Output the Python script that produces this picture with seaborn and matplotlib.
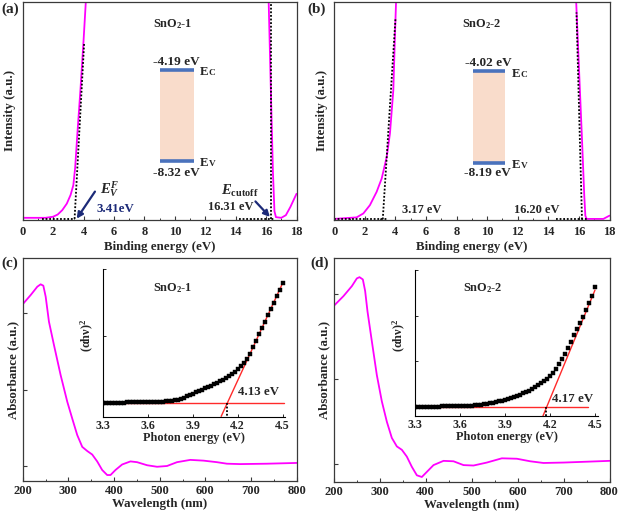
import numpy as np
import pandas as pd
import matplotlib
matplotlib.use("Agg")
import matplotlib.pyplot as plt
from matplotlib.patches import Rectangle
import seaborn as sns

# ---------------- data ----------------
# (a) UPS spectrum SnO2-1
a_energy = [0.0, 1.5, 2.0, 2.3, 2.6, 2.9, 3.15, 3.33, 3.45, 3.6, 3.8, 4.0, 4.15, 4.3,
            16.05, 16.17, 16.33, 16.45, 16.55, 16.65, 17.0, 17.3, 17.6, 17.8, 18.0]
a_intensity = [0.010, 0.010, 0.015, 0.025, 0.045, 0.075, 0.115, 0.160, 0.240, 0.400, 0.600, 0.820, 1.000, 1.200,
               1.200, 1.000, 0.550, 0.220, 0.040, 0.013, 0.010, 0.022, 0.060, 0.090, 0.120]
a_vbm_tangent_x = [3.41, 4.04]
a_vbm_tangent_y = [0.005, 0.81]
a_vbm_base_x = [1.3, 3.45]
a_vbm_base_y = [0.005, 0.005]
a_cut_tangent_x = [16.31, 16.31]
a_cut_tangent_y = [0.005, 1.0]
a_cut_base_x = [14.2, 16.5]
a_cut_base_y = [0.005, 0.005]

# (b) UPS spectrum SnO2-2
b_energy = [0.0, 1.46, 1.90, 2.33, 2.77, 3.10, 3.43, 3.64, 3.86, 3.97, 4.04, 4.2,
            15.7, 15.82, 16.0, 16.2, 16.35, 16.42, 16.5, 17.6, 18.0]
b_intensity = [0.005, 0.012, 0.030, 0.068, 0.129, 0.190, 0.289, 0.396, 0.594, 0.852, 1.000, 1.200,
               1.200, 1.000, 0.700, 0.370, 0.110, 0.020, 0.005, 0.005, 0.020]
b_vbm_tangent_x = [3.17, 4.0]
b_vbm_tangent_y = [0.003, 0.92]
b_vbm_base_x = [0.0, 3.5]
b_vbm_base_y = [0.003, 0.003]
b_cut_tangent_x = [16.20, 15.84]
b_cut_tangent_y = [0.003, 0.95]
b_cut_base_x = [14.5, 16.5]
b_cut_base_y = [0.003, 0.003]

# (c) UV-vis SnO2-1
c_wavelength = [200, 217.5, 232, 239.3, 245.2, 250.3, 257.5, 268.5, 283, 297.6, 308.5, 319.4, 330.4,
                341.3, 352.2, 363.1, 374, 385, 392.3, 403.2, 417.8, 436, 450.5, 472.4, 494.2, 516,
                537.9, 567, 596.2, 625.3, 647.2, 676.3, 734.6, 800]
c_absorbance = [3.114, 3.235, 3.344, 3.375, 3.357, 3.214, 2.886, 2.58, 2.19, 1.84, 1.62, 1.405, 1.25,
                1.196, 1.15, 1.06, 0.948, 0.882, 0.882, 0.948, 1.02, 1.06, 1.05, 1.01, 0.99, 1.0,
                1.05, 1.08, 1.07, 1.05, 1.03, 1.025, 1.03, 1.04]

# (d) UV-vis SnO2-2
d_wavelength = [200, 221.7, 239.9, 250.7, 256.5, 263.8, 268.8, 273.9, 283.3, 294.2, 305.1, 316, 326.8,
                337.7, 348.6, 359.4, 370.3, 381.2, 392, 402.9, 417.4, 439.1, 460.9, 482.6, 504.3,
                533.3, 566, 598.6, 627.5, 656.5, 700, 750.7, 800]
d_absorbance = [2.861, 2.98, 3.097, 3.188, 3.203, 3.176, 3.04, 2.80, 2.45, 2.05, 1.74, 1.50, 1.31,
                1.21, 1.17, 1.09, 0.97, 0.87, 0.85, 0.91, 0.99, 1.04, 1.035, 0.99, 0.985,
                1.02, 1.07, 1.065, 1.035, 1.015, 1.02, 1.03, 1.04]

# Tauc plot insets
tauc_energy = [3.30, 3.32, 3.34, 3.36, 3.38, 3.40, 3.42, 3.44, 3.46, 3.48, 3.50, 3.52, 3.54, 3.56,
               3.58, 3.60, 3.62, 3.64, 3.66, 3.68, 3.70, 3.72, 3.74, 3.76, 3.78, 3.80, 3.82, 3.84,
               3.86, 3.88, 3.90, 3.92, 3.94, 3.96, 3.98, 4.00, 4.02, 4.04, 4.06, 4.08, 4.10, 4.12,
               4.14, 4.16, 4.18, 4.20, 4.22, 4.24, 4.26, 4.28, 4.30, 4.32, 4.34, 4.36, 4.38, 4.40,
               4.42, 4.44, 4.46, 4.48, 4.50]
tauc1 = [0.000, 0.001, 0.002, 0.003, 0.004, 0.005, 0.006, 0.006, 0.007, 0.008, 0.009, 0.010, 0.011,
         0.012, 0.013, 0.014, 0.015, 0.016, 0.017, 0.019, 0.021, 0.023, 0.026, 0.031, 0.037, 0.046,
         0.060, 0.078, 0.098, 0.118, 0.138, 0.158, 0.178, 0.198, 0.218, 0.238, 0.258, 0.280, 0.302,
         0.325, 0.350, 0.377, 0.405, 0.436, 0.470, 0.508, 0.550, 0.600, 0.660, 0.740, 0.835, 0.930,
         1.025, 1.120, 1.215, 1.310, 1.405, 1.500, 1.595, 1.690, 1.790]
tauc2 = [0.000, 0.001, 0.002, 0.003, 0.004, 0.005, 0.006, 0.007, 0.008, 0.009, 0.010, 0.011, 0.012,
         0.014, 0.016, 0.018, 0.020, 0.023, 0.026, 0.030, 0.035, 0.041, 0.048, 0.056, 0.066, 0.077,
         0.089, 0.103, 0.118, 0.135, 0.153, 0.172, 0.193, 0.215, 0.240, 0.266, 0.295, 0.325, 0.358,
         0.393, 0.430, 0.470, 0.513, 0.560, 0.615, 0.680, 0.750, 0.840, 0.935, 1.040, 1.160, 1.290,
         1.430, 1.570, 1.710, 1.840, 1.980, 2.120, 2.270, 2.440, 2.620]
fit1_x = [4.09, 4.50]
fit1_y = [-0.20, 1.79]
base1_x = [3.30, 4.51]
fit2_x = [4.153, 4.50]
fit2_y = [-0.20, 2.56]
base2_x = [3.30, 4.45]
gap1 = 4.13
gap2 = 4.17

# ---------------- style ----------------
sns.set_theme(style="ticks")
plt.rcParams["font.family"] = ["Liberation Serif", "DejaVu Serif"]
plt.rcParams["font.weight"] = "bold"
plt.rcParams["axes.labelweight"] = "bold"
plt.rcParams["mathtext.fontset"] = "custom"
plt.rcParams["mathtext.rm"] = "Liberation Serif:bold"
plt.rcParams["mathtext.it"] = "Liberation Serif:italic:bold"
plt.rcParams["mathtext.bf"] = "Liberation Serif:bold"

PINK = "#ff00ff"
NAVY = "#1c2a78"
BLUE = "#4a72bc"
PEACH = "#f9dccb"
RED = "#ff2a2a"
SPINE = "#3a3a3a"

W, H = 620, 514
fig = plt.figure(figsize=(6.2, 5.14), dpi=100)


def px_axes(l, t, r, b):
    return fig.add_axes([l / W, 1 - b / H, (r - l) / W, (b - t) / H])


def line(ax, x, y, **kw):
    sns.lineplot(x=x, y=y, ax=ax, estimator=None, sort=False, **kw)


def style_main(ax, pad):
    for s in ax.spines.values():
        s.set_color(SPINE)
        s.set_linewidth(0.9)
    ax.tick_params(which="both", direction="in", color=SPINE, labelsize=9, pad=pad)
    ax.tick_params(which="major", length=3, width=0.8)
    ax.tick_params(which="minor", length=1.8, width=0.7)
    for lab in ax.get_xticklabels():
        lab.set_fontweight("bold")


# ---------------- (a) and (b) ----------------
axa = px_axes(22.7, 1.5, 296.5, 220)
axb = px_axes(334.3, 1.5, 609.5, 220)

ups = [
    (axa, a_energy, a_intensity, a_vbm_tangent_x, a_vbm_tangent_y, a_vbm_base_x, a_vbm_base_y,
     a_cut_tangent_x, a_cut_tangent_y, a_cut_base_x, a_cut_base_y),
    (axb, b_energy, b_intensity, b_vbm_tangent_x, b_vbm_tangent_y, b_vbm_base_x, b_vbm_base_y,
     b_cut_tangent_x, b_cut_tangent_y, b_cut_base_x, b_cut_base_y),
]
for ax, ex, iy, tx, ty, bx, by, ctx, cty, cbx, cby in ups:
    line(ax, ex, iy, color=PINK, linewidth=1.3)
    for xx, yy in [(tx, ty), (bx, by), (ctx, cty), (cbx, cby)]:
        line(ax, xx, yy, color="black", linewidth=1.3, linestyle=(0, (1, 1)))
    ax.set_xlim(0, 18)
    ax.set_ylim(0, 1)
    ax.set_xticks(np.arange(0, 19, 2))
    ax.set_xticks(np.arange(1, 18, 2), minor=True)
    ax.set_yticks([])
    style_main(ax, 4.0)
    ax.set_xlabel("Binding energy (eV)", fontsize=9.3, fontweight="bold")
    ax.xaxis.set_label_coords(0.5, -27 / 218.5)
    ax.xaxis.label.set_va("center")
    ax.set_ylabel("Intensity (a.u.)", fontsize=9.3, fontweight="bold")
    ax.yaxis.set_label_coords(-0.046, 0.5)
    ax.yaxis.label.set_va("center")

# energy level diagrams
levels = [
    (axa, "SnO$_\\mathregular{2}$-1", "-4.19 eV", "-8.32 eV", 0.503, 0.626, 0.269, 0.688,
     0.549, (0.561, 0.723), (0.561, 0.216), 0.662, 0.248),
    (axb, "SnO$_\\mathregular{2}$-2", "-4.02 eV", "-8.19 eV", 0.504, 0.622, 0.262, 0.682,
     0.537, (0.561, 0.718), (0.555, 0.216), 0.654, 0.236),
]
for ax, name, cb, vb, x0, x1, y0, y1, nx, cbpos, vbpos, ecy, evy in levels:
    ax.add_patch(Rectangle((x0, y0), x1 - x0, y1 - y0, transform=ax.transAxes,
                           facecolor=PEACH, edgecolor="none", zorder=1))
    ax.plot([x0, x1], [y1, y1], transform=ax.transAxes, color=BLUE, lw=2.6, zorder=2,
            solid_capstyle="butt")
    ax.plot([x0, x1], [y0, y0], transform=ax.transAxes, color=BLUE, lw=2.6, zorder=2,
            solid_capstyle="butt")
    ax.text(nx, 0.895, name, transform=ax.transAxes, ha="center", va="center",
            fontsize=8.8, fontweight="bold")
    ax.text(*cbpos, cb, transform=ax.transAxes, ha="center", va="center", fontsize=9.5,
            fontweight="bold")
    ax.text(*vbpos, vb, transform=ax.transAxes, ha="center", va="center", fontsize=9.5,
            fontweight="bold")
    for yb, sub in [(ecy, "C"), (evy, "V")]:
        ax.text(0.646, yb, "E", transform=ax.transAxes, ha="left", va="baseline",
                fontsize=9.3, fontweight="bold")
        ax.annotate(sub, xy=(0.646, yb), xycoords="axes fraction", xytext=(6.4, 0),
                    textcoords="offset points", ha="left", va="baseline", fontsize=6.7,
                    fontweight="bold")

# annotations in (a)
axa.annotate("", xy=(3.55, 0.006), xytext=(4.75, 0.13),
             arrowprops=dict(arrowstyle="-|>", color=NAVY, lw=1.6, mutation_scale=9,
                             shrinkA=0, shrinkB=0))
axa.annotate("", xy=(16.25, 0.014), xytext=(15.3, 0.085),
             arrowprops=dict(arrowstyle="-|>", color=NAVY, lw=1.6, mutation_scale=9,
                             shrinkA=0, shrinkB=0))
axa.text(5.73, 0.14, r"$E_V^F$", ha="center", va="center", fontsize=10.5)
axa.text(6.06, 0.049, "3.41eV", ha="center", va="center", fontsize=9.3, fontweight="bold",
         color=NAVY)
axa.text(14.25, 0.134, r"$E_{\mathregular{cutoff}}$", ha="center", va="center", fontsize=10.5)
axa.text(13.70, 0.061, "16.31 eV", ha="center", va="center", fontsize=9, fontweight="bold")
axb.text(5.72, 0.046, "3.17 eV", ha="center", va="center", fontsize=9, fontweight="bold")
axb.text(13.25, 0.046, "16.20 eV", ha="center", va="center", fontsize=9, fontweight="bold")

# ---------------- (c) and (d) ----------------
axc = px_axes(22.7, 258, 296.7, 481)
axd = px_axes(333.5, 258, 609.5, 482)
insc = px_axes(103, 269.3, 285.5, 417)
insd = px_axes(415, 270, 598, 416)

uv = [
    (axc, c_wavelength, c_absorbance, (1 - (481 - 466) / 76.5, 3 + (313 - 258) / 76.5)),
    (axd, d_wavelength, d_absorbance, (1 - (482 - 464.3) / 84.7, 3 + (294.3 - 258) / 84.7)),
]
for ax, wl, ab, ylim in uv:
    line(ax, wl, ab, color=PINK, linewidth=1.3)
    ax.set_xlim(200, 800)
    ax.set_ylim(*ylim)
    ax.set_xticks(np.arange(200, 801, 100))
    ax.set_xticks(np.arange(250, 800, 100), minor=True)
    ax.set_yticks([1, 2, 3])
    ax.set_yticklabels([])
    style_main(ax, 3.0)
    ax.set_xlabel("Wavelength (nm)", fontsize=9.3, fontweight="bold")
    ax.xaxis.set_label_coords(0.5, -23.3 / 223)
    ax.xaxis.label.set_va("center")
    ax.set_ylabel("Absorbance (a.u.)", fontsize=9.3, fontweight="bold")
    ax.yaxis.set_label_coords(-0.035, 0.5)
    ax.yaxis.label.set_va("center")

insets = [
    (insc, tauc1, fit1_x, fit1_y, base1_x, gap1, (-0.21, 2.0), [0, 1, 2], "SnO$_\\mathregular{2}$-1",
     (3.764, 1.72), "4.13 eV", (4.34, 0.17)),
    (insd, tauc2, fit2_x, fit2_y, base2_x, gap2, (-0.20, 3.0), [0, 1, 2, 3], "SnO$_\\mathregular{2}$-2",
     (3.75, 2.60), "4.17 eV", (4.35, 0.17)),
]
for ax, ty, fx, fy, bx, gap, ylim, yt, name, npos, gtxt, gpos in insets:
    ax.set_facecolor("white")
    sns.scatterplot(x=tauc_energy, y=ty, ax=ax, marker="s", s=10, color="black",
                    edgecolor="black", linewidth=0.3, zorder=3)
    line(ax, bx, [0, 0], color=RED, linewidth=1.0)
    line(ax, fx, fy, color=RED, linewidth=1.0)
    line(ax, [gap, gap], [0, ylim[0]], color="black", linewidth=1.3, linestyle=(0, (1, 1)))
    ax.set_xlim(3.3, 4.52)
    ax.set_ylim(*ylim)
    ax.set_xticks([3.3, 3.6, 3.9, 4.2, 4.5])
    ax.set_xticklabels(["3.3", "3.6", "3.9", "4.2", "4.5"])
    ax.set_yticks(yt)
    ax.set_yticklabels([])
    for s in ["top", "right"]:
        ax.spines[s].set_visible(False)
    for s in ["left", "bottom"]:
        ax.spines[s].set_color("black")
        ax.spines[s].set_linewidth(0.8)
    ax.tick_params(direction="in", length=2.5, width=0.7, labelsize=8.6, pad=2.4)
    ax.set_xlabel("Photon energy (eV)", fontsize=8.8, fontweight="bold")
    ax.xaxis.set_label_coords(0.5, -21 / 147)
    ax.xaxis.label.set_va("center")
    ax.set_ylabel(r"($\mathregular{\alpha h\nu}$)$^\mathregular{2}$", fontsize=8.8)
    ax.yaxis.set_label_coords(-0.083, 0.55)
    ax.yaxis.label.set_va("center")
    ax.text(*npos, name, ha="center", va="center", fontsize=8.8, fontweight="bold")
    ax.text(*gpos, gtxt, ha="center", va="center", fontsize=9.3, fontweight="bold")

# panel labels
for lab, x, y in [("(a)", 10, 9), ("(b)", 317, 9), ("(c)", 10, 263), ("(d)", 320, 263)]:
    fig.text(x / W, 1 - y / H, lab, ha="center", va="center", fontsize=11, fontweight="bold")

fig.savefig("out.png", dpi=100)
